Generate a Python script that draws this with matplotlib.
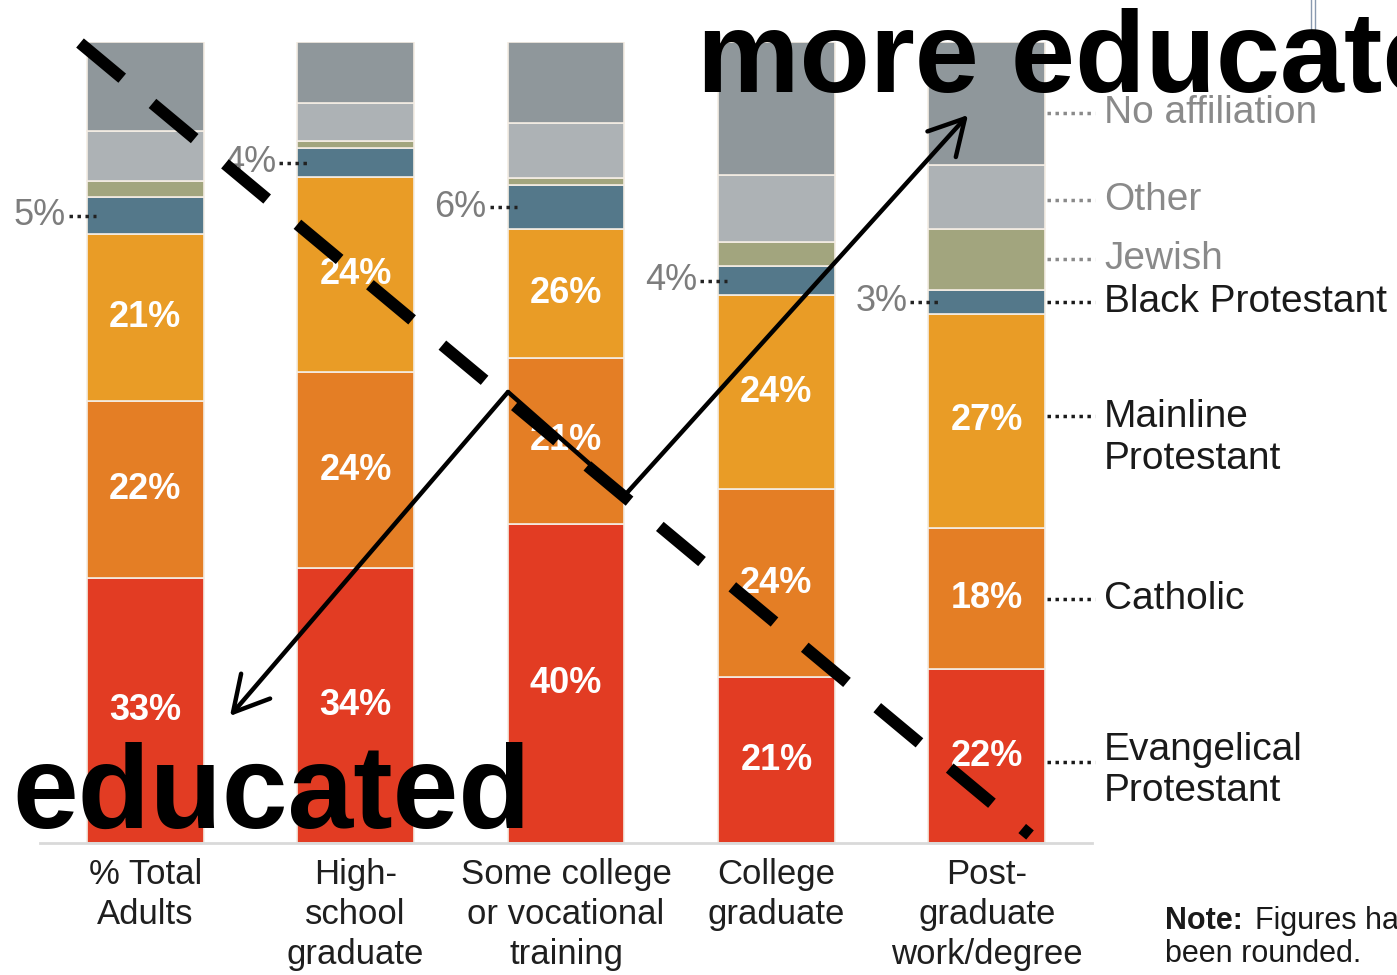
import matplotlib.pyplot as plt
from matplotlib.lines import Line2D

plt.rcParams["font.family"] = ["Liberation Sans", "DejaVu Sans"]

categories = [
    "% Total\nAdults",
    "High-\nschool\ngraduate",
    "Some college\nor vocational\ntraining",
    "College\ngraduate",
    "Post-\ngraduate\nwork/degree",
]

# shares (%), bottom to top of each bar
evangelical = [33.1, 34.3, 39.8, 20.7, 21.7]
catholic = [22.1, 24.5, 20.8, 23.5, 17.6]
mainline = [20.8, 24.3, 16.0, 24.2, 26.8]
black_prot = [4.6, 3.7, 5.5, 3.6, 2.9]
jewish = [2.1, 0.9, 0.9, 3.0, 7.7]
other = [6.2, 4.7, 6.9, 8.4, 7.9]
no_affil = [11.1, 7.6, 10.1, 16.6, 15.4]

# printed labels as they appear on the chart
evangelical_labels = ["33%", "34%", "40%", "21%", "22%"]
catholic_labels = ["22%", "24%", "21%", "24%", "18%"]
mainline_labels = ["21%", "24%", "26%", "24%", "27%"]
black_prot_labels = ["5%", "4%", "6%", "4%", "3%"]

series = [evangelical, catholic, mainline, black_prot, jewish, other, no_affil]
series_names = [
    "Evangelical\nProtestant",
    "Catholic",
    "Mainline\nProtestant",
    "Black Protestant",
    "Jewish",
    "Other",
    "No affiliation",
]
COLORS = ["#e23c23", "#e47e25", "#e99c26", "#54788a", "#a2a57e", "#adb2b5", "#8f979b"]
NAME_COLORS = ["#1a1a1a", "#1a1a1a", "#1a1a1a", "#1a1a1a", "#8a8a8a", "#8a8a8a", "#8a8a8a"]
# vertical shift (points) of leader + name relative to the segment middle,
# and of the name text relative to its leader
LEADER_SHIFT = [-6, 0, 5, 0, 0, -3, -9]
NAME_SHIFT = [-6, 0, -16, 0, 0, 0, 0]

W, H = 1397, 975
fig = plt.figure(figsize=(W / 100, H / 100), dpi=100)
ax = fig.add_axes([40 / W, 1 - 843 / H, (1092 - 40) / W, (843 - 42) / H])

x = list(range(len(categories)))
width = 0.556
bottoms = [0.0] * len(x)
mids = []
for vals, color in zip(series, COLORS):
    ax.bar(x, vals, width=width, bottom=bottoms, color=color,
           edgecolor="#f4ede4", linewidth=1.2)
    mids.append([b + v / 2 for b, v in zip(bottoms, vals)])
    bottoms = [b + v for b, v in zip(bottoms, vals)]

# white percentages inside the three big segments
for k, labels in enumerate([evangelical_labels, catholic_labels, mainline_labels]):
    for i, lab in enumerate(labels):
        ax.text(x[i], mids[k][i], lab, ha="center", va="center", color="white",
                fontsize=26, fontweight="bold", zorder=3)

# grey percentages for Black Protestant, left of each bar
for i, lab in enumerate(black_prot_labels):
    left = x[i] - width / 2
    ax.text(left - 0.1, mids[3][i], lab, ha="right", va="center",
            color="#7d7d7d", fontsize=26, zorder=3)
    ax.plot([left - 0.085, left + 0.045], [mids[3][i]] * 2, color="#222222",
            lw=2.5, linestyle=(0, (1, 1.3)), clip_on=False, zorder=4)

# category names to the right of the last bar
right = x[-1] + width / 2
for k, name in enumerate(series_names):
    y = mids[k][-1] + LEADER_SHIFT[k] / 8.01
    ax.plot([right + 0.01, right + 0.235], [y, y], color=NAME_COLORS[k],
            lw=2.5, linestyle=(0, (1, 1.3)), clip_on=False)
    ax.annotate(name, xy=(right + 0.28, y), xytext=(0, NAME_SHIFT[k]),
                textcoords="offset points", ha="left", va="center",
                fontsize=28, color=NAME_COLORS[k], linespacing=1.2,
                annotation_clip=False)

ax.set_xlim(-0.5, 4.5)
ax.set_ylim(0, 100)
ax.set_xticks(x)
ax.set_xticklabels(categories, fontsize=25, color="#1f1f1f", linespacing=1.27)
ax.tick_params(axis="x", length=0, pad=11)
ax.set_yticks([])
for side in ["top", "left", "right"]:
    ax.spines[side].set_visible(False)
ax.spines["bottom"].set_color("#d9d9d9")
ax.spines["bottom"].set_linewidth(2)

fig.text(1165 / W, 1 - 921 / H, "Note:", fontsize=22, fontweight="bold",
         color="#1a1a1a", va="center")
fig.text(1255 / W, 1 - 921 / H, "Figures have", fontsize=22,
         color="#1a1a1a", va="center")
fig.text(1165 / W, 1 - 954 / H, "been rounded.", fontsize=22,
         color="#1a1a1a", va="center")


# --- hand-drawn overlay (positions in image pixels, origin top-left) ---
def px(xp, yp):
    return xp, H - yp


fig.text(697 / W, 1 - 92 / H, "more educated", fontsize=83, fontweight="bold",
         color="black", va="baseline", zorder=10)
fig.text(12 / W, 1 - 828 / H, "educated", fontsize=85, fontweight="bold",
         color="black", va="baseline", zorder=10)

dash = Line2D([80 / W, 1030 / W], [1 - 43 / H, 1 - 835 / H], transform=fig.transFigure,
              color="black", lw=8.6, linestyle=(0, (4.6, 3.3)), zorder=11)
fig.add_artist(dash)

arrow_kw = dict(arrowstyle="->,head_length=1.0,head_width=0.55", lw=3.2,
                color="black", mutation_scale=25, shrinkA=0, shrinkB=0)
ax.annotate("", xy=px(230, 716), xytext=px(508, 392), xycoords="figure pixels",
            textcoords="figure pixels", arrowprops=arrow_kw, zorder=12)
ax.annotate("", xy=px(968, 115), xytext=px(625, 495), xycoords="figure pixels",
            textcoords="figure pixels", arrowprops=arrow_kw, zorder=12)
mid = Line2D([508 / W, 625 / W], [1 - 392 / H, 1 - 495 / H], transform=fig.transFigure,
             color="black", lw=3.2, solid_capstyle="round", zorder=12)
fig.add_artist(mid)

# window edge visible at the top right
for xe in [1311, 1315]:
    fig.add_artist(Line2D([xe / W, xe / W], [1, 1 - 34 / H], transform=fig.transFigure,
                          color="#8a9ab0", lw=1))

fig.savefig("out.png", dpi=100, facecolor="white")
